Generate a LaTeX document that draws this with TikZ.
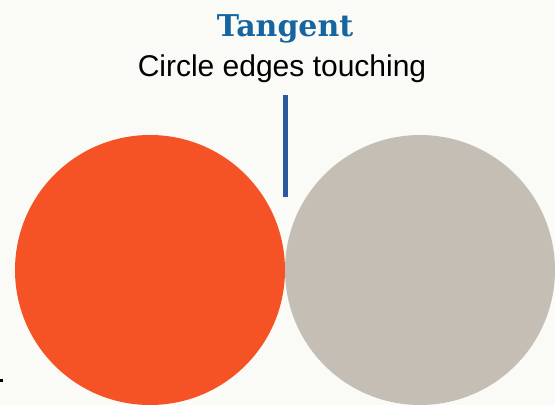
\documentclass[tikz,border=0pt]{standalone}
\usepackage{fontspec}
\setmainfont{Liberation Sans}
\newfontfamily\slabfont{DejaVu Serif}
\definecolor{bgcream}{RGB}{250,251,246}
\definecolor{discorange}{RGB}{245,82,37}
\definecolor{discgray}{RGB}{196,190,181}
\definecolor{titleblue}{RGB}{22,100,160}
\definecolor{markerblue}{RGB}{42,90,155}
\usetikzlibrary{positioning}
\tikzset{
  disc/.style={circle,minimum size=270pt,inner sep=0pt,fill=#1},
  heading/.style={font=\slabfont\bfseries\fontsize{30}{35}\selectfont,
                  text=titleblue,inner sep=0pt},
  caption/.style={font=\fontsize{30}{35}\selectfont,text=black,inner sep=0pt},
  marker/.style={line width=5pt,markerblue},
}
\begin{document}
\begin{tikzpicture}[x=1pt,y=-1pt]
  \fill[bgcream] (0,0) rectangle (555,405);
  \useasboundingbox (0,0) rectangle (555,405);
  % the two touching discs
  \node[disc=discorange] (left) at (150,270) {};
  \node[disc=discgray] (right) at (420,270) {};
  % labels
  \node[heading,anchor=base] (title) at (285,36) {Tangent};
  \node[caption,anchor=base] (sub) at (282,76) {Circle edges touching};
  \coordinate (top) at (285,95);
  \coordinate (bot) at (285,197);
  \draw[marker] (top) -- (bot);
  \fill (0,379) rectangle (3,382);
\end{tikzpicture}
\end{document}
